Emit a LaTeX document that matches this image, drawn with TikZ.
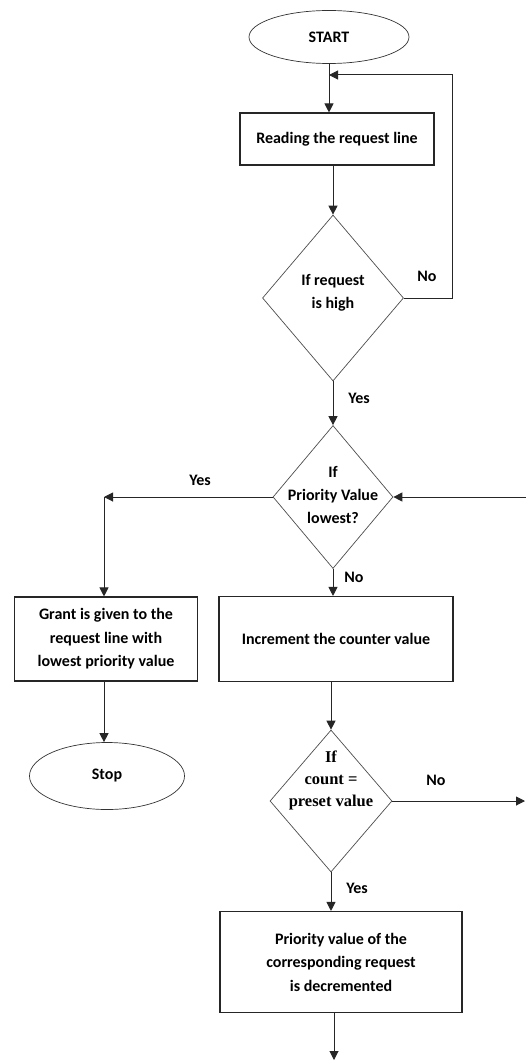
\documentclass[tikz,border=0pt]{standalone}
\usepackage{fontspec}
\setmainfont{Carlito}
\newfontfamily\cntfont{Liberation Serif}
\usetikzlibrary{shapes.geometric,arrows.meta,positioning}

\tikzset{
  flowline/.style={draw=black!85, line width=1pt},
  flowarrow/.style={flowline, -{Triangle[length=9pt,width=9pt]}},
  termbox/.style={ellipse, draw=black!80, line width=0.7pt, inner sep=0pt,
    font=\bfseries\fontsize{16}{23.5}\selectfont},
  procbox/.style={rectangle, draw=black!85, line width=1.1pt, inner sep=0pt,
    align=center, font=\bfseries\fontsize{16}{23.5}\selectfont},
  decbox/.style={diamond, draw=black!70, line width=0.7pt, inner sep=0pt},
  dectext/.style={align=center, inner sep=0pt, font=\bfseries\fontsize{16}{23}\selectfont},
  branch/.style={inner sep=0pt, font=\bfseries\fontsize{16}{19}\selectfont},
}

\begin{document}
\begin{tikzpicture}[x=1pt, y=-1pt]
  \useasboundingbox (0,0) rectangle (526,1062);

  %BLOCKS
  \node[termbox, minimum width=160pt, minimum height=53pt] (start) at (329,37) {START};
  \node[procbox, minimum width=194pt, minimum height=52pt] (read) at (337,139) {Reading the request line};
  \node[decbox, minimum width=141pt, minimum height=166pt] (ifhigh) at (333,298) {};
  \node[dectext] (ifhightxt) at (333,293) {If request\\is high};
  \node[decbox, minimum width=120pt, minimum height=143pt] (iflow) at (333,497) {};
  \node[dectext] (iflowtxt) at (333,495) {If\\Priority Value\\lowest?};
  \node[procbox, minimum width=183pt, minimum height=84pt] (grant) at (106,639)
    {Grant is given to the\\request line with\\lowest priority value};
  \node[procbox, minimum width=234pt, minimum height=85pt] (incr) at (336,639) {Increment the counter value};
  \node[termbox, minimum width=155pt, minimum height=67pt] (stop) at (107,776) {Stop};
  \node[decbox, minimum width=122pt, minimum height=142pt] (ifcount) at (331,801) {};
  \node[dectext, font=\cntfont\bfseries\fontsize{16.5}{22}\selectfont] (ifcounttxt) at (331,780)
    {If\\count =\\preset value};
  \node[procbox, minimum width=242pt, minimum height=101pt] (decr) at (341,962)
    {Priority value of the\\corresponding request\\is decremented};

  %FREE ENDS
  \coordinate (fbtop) at (452,75);
  \coordinate (yescorner) at (104,497);
  \coordinate (loopin) at (526,497);
  \coordinate (loopout) at (525,801);
  \coordinate (decrout) at (334,1060);

  %CONNECTORS
  \draw[flowarrow] (start.south) -- (start.south |- read.north);
  \draw[flowarrow] (ifhigh.east) -| (fbtop) -- (fbtop -| start.south);
  \draw[flowarrow] (read.south -| ifhigh.north) -- (ifhigh.north);
  \draw[flowarrow] (ifhigh.south) -- (iflow.north);
  \draw[flowarrow] (iflow.west) -- (yescorner);
  \draw[flowarrow] (yescorner) -- (yescorner |- grant.north);
  \draw[flowarrow] (loopin) -- (iflow.east);
  \draw[flowarrow] (iflow.south) -- (iflow.south |- incr.north);
  \draw[flowarrow] (grant.south -| yescorner) -- (yescorner |- stop.north);
  \draw[flowarrow] (incr.south -| ifcount.north) -- (ifcount.north);
  \draw[flowarrow] (ifcount.east) -- (loopout);
  \draw[flowarrow] (ifcount.south) -- (ifcount.south |- decr.north);
  \draw[flowarrow] (decr.south -| decrout) -- (decrout);

  %LABELS
  \node[branch] (nohigh) at (427,276) {No};
  \node[branch] (yeshigh) at (359,398) {Yes};
  \node[branch] (yeslow) at (200,480) {Yes};
  \node[branch] (nolow) at (354,577) {No};
  \node[branch] (nocount) at (436,780) {No};
  \node[branch] (yescount) at (357,888) {Yes};
\end{tikzpicture}
\end{document}
